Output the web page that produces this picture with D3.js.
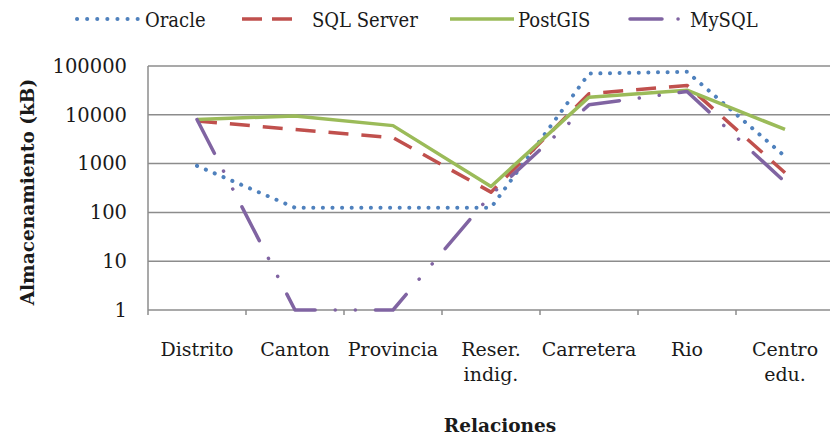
<!DOCTYPE html>
<html>
<head>
<meta charset="utf-8">
<script src="https://cdn.jsdelivr.net/npm/d3@7"></script>
<style>
  body { margin: 0; background: #fff; }
  svg { display: block; }
  text { font-family: "DejaVu Serif", serif; fill: #1a1a1a; }
</style>
</head>
<body>
<svg id="chart" width="830" height="436"></svg>
<script>
// categories and values (kB)
const categories = ["Distrito", "Canton", "Provincia", "Reser.|indig.", "Carretera", "Rio", "Centro|edu."];
const oracle    = [900, 125, 125, 125, 70000, 76000, 1400];
const sqlServer = [7500, 5000, 3400, 260, 27000, 40000, 650];
const postgis   = [8000, 9500, 6000, 340, 23000, 32000, 5000];
const mysql     = [8000, 1, 1, 230, 16000, 30000, 420];
const yTicks = [1, 10, 100, 1000, 10000, 100000];

const series = [
  {name: "Oracle", values: oracle, color: "#4f81bd", dash: "0.1 9.5", cap: "round"},
  {name: "SQL Server", values: sqlServer, color: "#c0504d", dash: "20 13", cap: "butt"},
  {name: "PostGIS", values: postgis, color: "#9bbb59", dash: null, cap: "butt"},
  {name: "MySQL", values: mysql, color: "#8064a2", dash: "38 20 0.1 20 0.1 20", cap: "round"}
];

const svg = d3.select("#chart");
const margin = {left: 148, right: -4, top: 66, bottom: 126};
const width = 830, height = 436;

const x = d3.scaleBand()
    .domain(categories)
    .range([margin.left, width - margin.right]);
const y = d3.scaleLog()
    .domain([1, 100000])
    .range([height - margin.bottom, margin.top]);

// gridlines
svg.append("g")
  .selectAll("line")
  .data(yTicks)
  .join("line")
    .attr("x1", margin.left)
    .attr("x2", width - margin.right)
    .attr("y1", d => y(d))
    .attr("y2", d => y(d))
    .attr("stroke", "#8c8c8c")
    .attr("stroke-width", 1.5);

// left axis line
svg.append("line")
    .attr("x1", margin.left).attr("x2", margin.left)
    .attr("y1", y(100000)).attr("y2", y(1) + 5)
    .attr("stroke", "#8c8c8c")
    .attr("stroke-width", 1.5);

// y axis labels
const yAxis = d3.axisLeft(y)
    .tickValues(yTicks)
    .tickFormat(d3.format("d"))
    .tickSize(0)
    .tickPadding(21);
const gY = svg.append("g")
    .attr("transform", `translate(${margin.left},0)`)
    .call(yAxis);
gY.select(".domain").remove();
gY.selectAll("text")
    .style("font-family", "'DejaVu Serif', serif")
    .style("font-size", "19.5px")
    .attr("fill", "#1a1a1a");

// x ticks at band boundaries
svg.append("g")
  .selectAll("line")
  .data(categories.slice(1))
  .join("line")
    .attr("x1", d => x(d)).attr("x2", d => x(d))
    .attr("y1", y(1)).attr("y2", y(1) + 5)
    .attr("stroke", "#8c8c8c")
    .attr("stroke-width", 1.5);

// x labels
const xLab = svg.append("g")
  .selectAll("text")
  .data(categories)
  .join("text")
    .attr("x", d => x(d) + x.bandwidth() / 2)
    .attr("y", 356)
    .attr("text-anchor", "middle")
    .style("font-size", "19px");
xLab.each(function(d) {
  const parts = d.split("|");
  d3.select(this).selectAll("tspan")
    .data(parts)
    .join("tspan")
      .attr("x", x(d) + x.bandwidth() / 2)
      .attr("dy", (p, i) => i === 0 ? 0 : 25)
      .text(p => p);
});

// lines
const line = d3.line()
    .x((d, i) => x(categories[i]) + x.bandwidth() / 2)
    .y(d => y(d));

svg.append("g")
  .selectAll("path")
  .data(series)
  .join("path")
    .attr("fill", "none")
    .attr("stroke", d => d.color)
    .attr("stroke-width", d => d.name === "Oracle" ? 4 : 3.5)
    .attr("stroke-linejoin", "round")
    .attr("stroke-linecap", d => d.cap)
    .attr("stroke-dasharray", d => d.dash)
    .attr("d", d => line(d.values));

// axis titles
svg.append("text")
    .attr("transform", "translate(34,192) rotate(-90)")
    .attr("text-anchor", "middle")
    .style("font-size", "18.5px")
    .style("font-weight", "bold")
    .text("Almacenamiento (kB)");

svg.append("text")
    .attr("x", 500)
    .attr("y", 432)
    .attr("text-anchor", "middle")
    .style("font-size", "18.5px")
    .style("font-weight", "bold")
    .text("Relaciones");

// legend
const legendX = [77, 242, 450, 630];
const legendLen = [61, 50, 64, 50];
const legendDash = ["0.1 10", "20 10", null, "32 16 0.1 20"];
const legendText = [68, 70, 68, 60];
const legend = svg.append("g")
  .selectAll("g")
  .data(series)
  .join("g")
    .attr("transform", (d, i) => `translate(${legendX[i]},19)`);
legend.append("line")
    .attr("x1", 0).attr("x2", (d, i) => legendLen[i])
    .attr("stroke", d => d.color)
    .attr("stroke-width", d => d.name === "Oracle" ? 4 : 3.5)
    .attr("stroke-linecap", d => d.cap)
    .attr("stroke-dasharray", (d, i) => legendDash[i]);
legend.append("text")
    .attr("x", (d, i) => legendText[i])
    .attr("y", 8)
    .style("font-family", "'DejaVu Serif Condensed', 'DejaVu Serif', serif")
    .style("font-size", "20px")
    .text(d => d.name);
</script>
</body>
</html>
